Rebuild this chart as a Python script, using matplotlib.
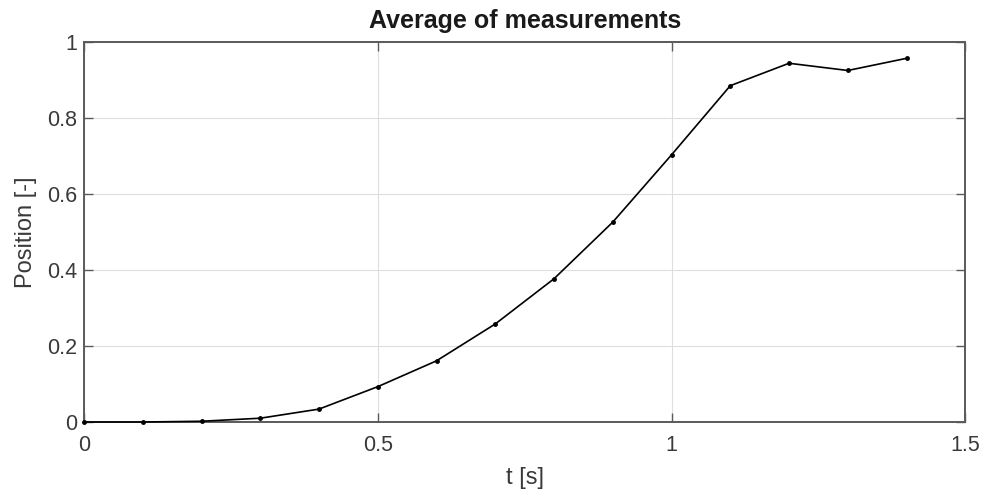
import matplotlib
matplotlib.use("Agg")
import matplotlib.pyplot as plt

# Averaged position measurements over time
t = [0.0, 0.1, 0.2, 0.3, 0.4, 0.5, 0.6, 0.7, 0.8, 0.9, 1.0, 1.1, 1.2, 1.3, 1.4]
position = [0.0, 0.0, 0.002, 0.010, 0.034, 0.093, 0.161, 0.258, 0.377, 0.526,
            0.703, 0.885, 0.944, 0.925, 0.957]

xticks = [0, 0.5, 1, 1.5]
yticks = [0, 0.2, 0.4, 0.6, 0.8, 1]

plt.rcParams['font.family'] = ['Liberation Sans', 'DejaVu Sans']

fig = plt.figure(figsize=(9.86, 4.91), dpi=100)
ax = fig.add_axes([0.0852, 0.1405, 0.979 - 0.0852, 0.9145 - 0.1405])

ax.plot(t, position, color='black', linewidth=1.2, marker='o', markersize=2.5,
        clip_on=False, zorder=4)

ax.set_xlim(0, 1.5)
ax.set_ylim(0, 1)
ax.set_xticks(xticks)
ax.set_xticklabels([f"{v:g}" for v in xticks])
ax.set_yticks(yticks)
ax.set_yticklabels([f"{v:g}" for v in yticks])

ax.grid(True, color='#dedede', linewidth=0.8)
ax.set_axisbelow(True)

for s in ax.spines.values():
    s.set_color('#5a5a5a')
    s.set_linewidth(1.4)

ax.tick_params(direction='in', top=True, right=True, length=6.5, width=1.0,
               colors='#5a5a5a', labelcolor='#3a3a3a', labelsize=15.5)
ax.tick_params(axis='x', pad=9)
ax.tick_params(axis='y', pad=5)

ax.set_xlabel('t [s]', fontsize=17, color='#3a3a3a', labelpad=8)
ax.set_ylabel('Position [-]', fontsize=17, color='#3a3a3a', labelpad=7)
ax.set_title('Average of measurements', fontsize=18, fontweight='bold',
             color='#1a1a1a', pad=10)

fig.savefig('out.png', dpi=100)
